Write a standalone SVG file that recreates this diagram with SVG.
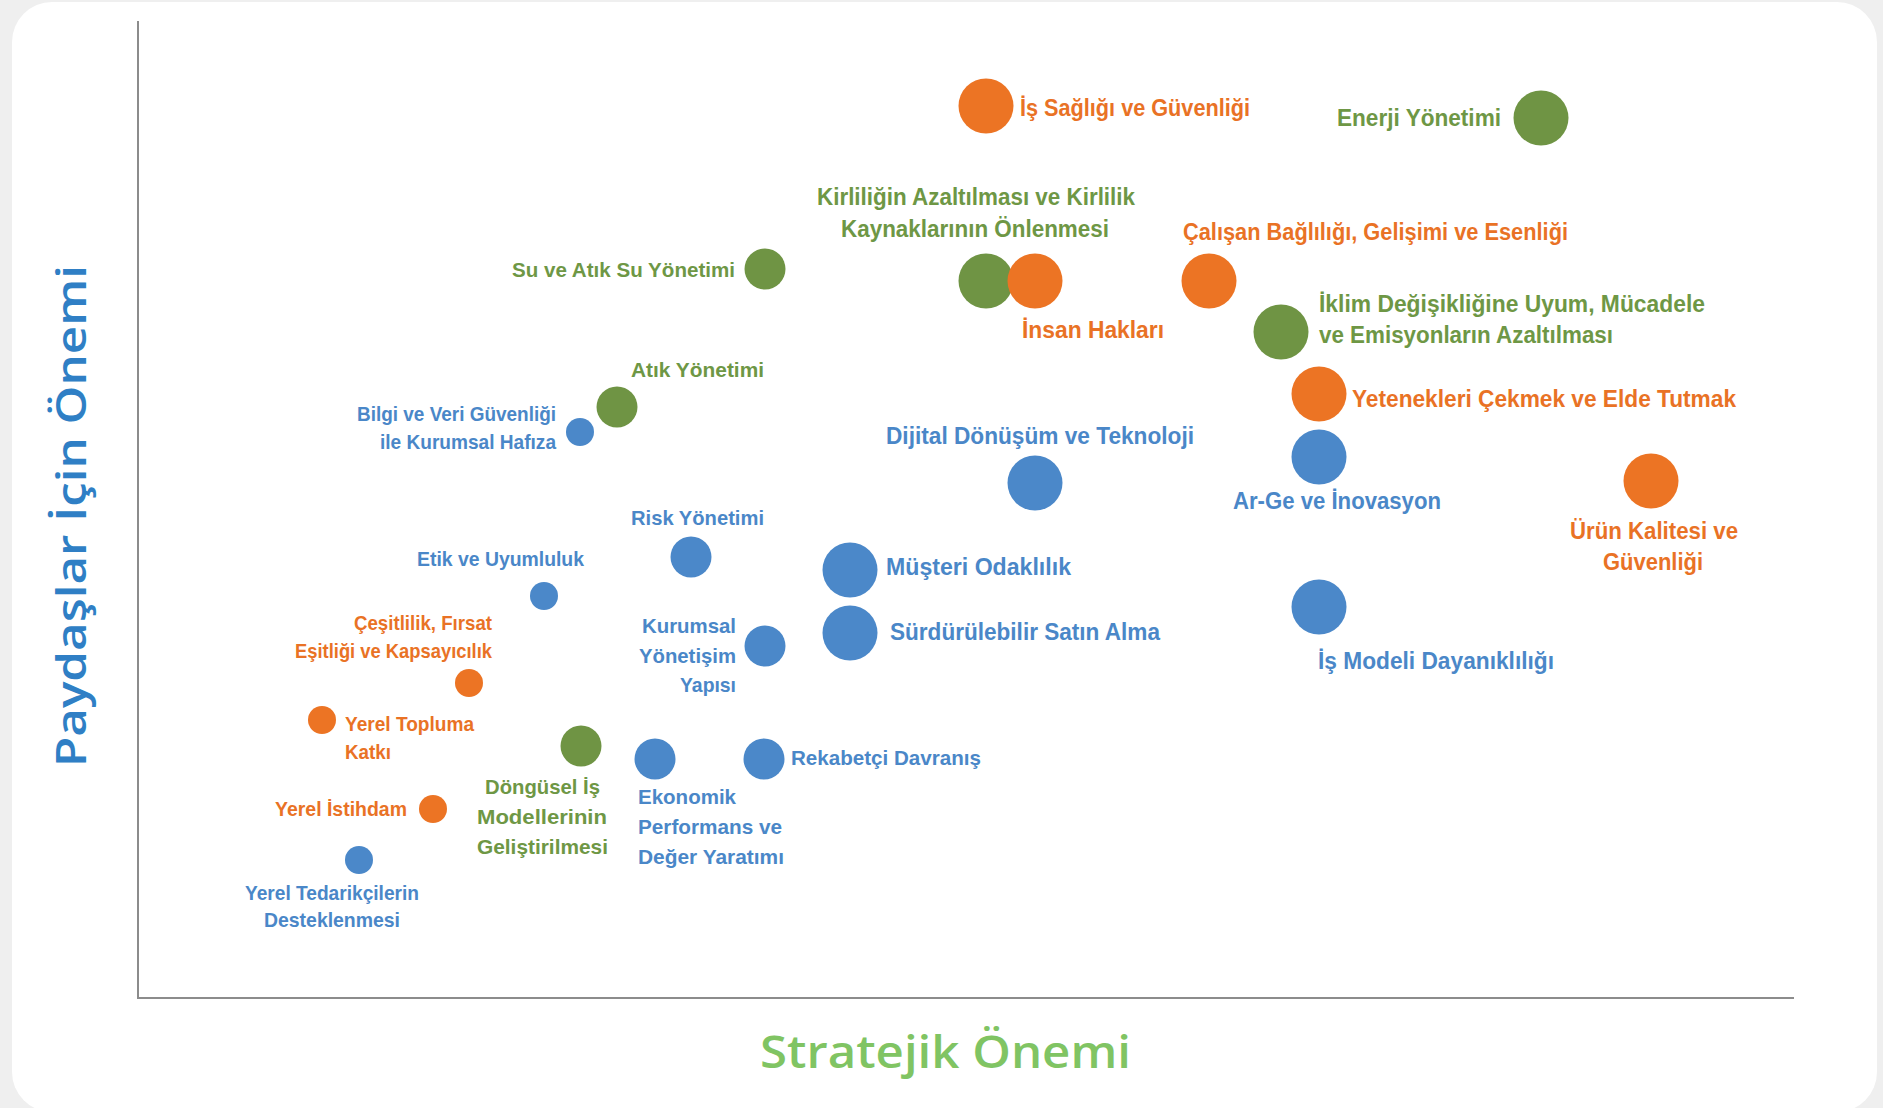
<svg xmlns="http://www.w3.org/2000/svg" width="1883" height="1108" viewBox="0 0 1883 1108">
<style>
.lb{font-family:"Liberation Sans Narrow","Liberation Sans",Arial,sans-serif;font-weight:bold;font-size:21px}
.big{font-size:23px}
.o{fill:#e97225}
.g{fill:#6e9745}
.b{fill:#4a87c8}
.co{fill:#ec7424}
.cg{fill:#6f9444}
.cb{fill:#4b88c9}
.ttl{font-family:"Open Sans","Noto Sans",sans-serif;font-weight:600}
</style>
<rect x="0" y="0" width="1883" height="1108" fill="#efefef"/>
<rect x="12" y="2" width="1865" height="1110" rx="40" ry="40" fill="#ffffff"/>
<g id="axes" stroke="#8c8c8c" stroke-width="2" fill="none">
<line x1="138" y1="21" x2="138" y2="998"/>
<line x1="137" y1="998" x2="1794" y2="998"/>
</g>
<g id="axis-titles">
<text class="ttl" transform="translate(86,767) rotate(-90)" font-size="41" fill="#2f7fc5" textLength="502" lengthAdjust="spacingAndGlyphs">Paydaşlar İçin Önemi</text>
<text class="ttl" x="760" y="1068" font-size="45" fill="#80c463" textLength="371" lengthAdjust="spacingAndGlyphs">Stratejik Önemi</text>
</g>
<g id="n-is-sagligi"><circle class="co" cx="986" cy="106" r="27.5"/><text class="lb big o" x="1020" y="116" textLength="230" lengthAdjust="spacingAndGlyphs">İş Sağlığı ve Güvenliği</text></g>
<g id="n-enerji"><circle class="cg" cx="1541" cy="118" r="27.5"/><text class="lb big g" x="1337" y="126" textLength="164" lengthAdjust="spacingAndGlyphs">Enerji Yönetimi</text></g>
<g id="n-kirlilik"><circle class="cg" cx="986" cy="281" r="27.5"/><text class="lb big g" x="817" y="205" textLength="318" lengthAdjust="spacingAndGlyphs">Kirliliğin Azaltılması ve Kirlilik</text><text class="lb big g" x="841" y="237" textLength="268" lengthAdjust="spacingAndGlyphs">Kaynaklarının Önlenmesi</text></g>
<g id="n-insan-haklari"><circle class="co" cx="1035" cy="281" r="27.5"/><text class="lb big o" x="1022" y="338" textLength="142" lengthAdjust="spacingAndGlyphs">İnsan Hakları</text></g>
<g id="n-calisan"><circle class="co" cx="1209" cy="281" r="27.5"/><text class="lb big o" x="1183" y="240" textLength="385" lengthAdjust="spacingAndGlyphs">Çalışan Bağlılığı, Gelişimi ve Esenliği</text></g>
<g id="n-iklim"><circle class="cg" cx="1281" cy="332" r="27.5"/><text class="lb big g" x="1319" y="312" textLength="386" lengthAdjust="spacingAndGlyphs">İklim Değişikliğine Uyum, Mücadele</text><text class="lb big g" x="1319" y="343" textLength="294" lengthAdjust="spacingAndGlyphs">ve Emisyonların Azaltılması</text></g>
<g id="n-yetenek"><circle class="co" cx="1319" cy="394" r="27.5"/><text class="lb big o" x="1352" y="407" textLength="384" lengthAdjust="spacingAndGlyphs">Yetenekleri Çekmek ve Elde Tutmak</text></g>
<g id="n-arge"><circle class="cb" cx="1319" cy="457" r="27.5"/><text class="lb big b" x="1233" y="509" textLength="208" lengthAdjust="spacingAndGlyphs">Ar-Ge ve İnovasyon</text></g>
<g id="n-dijital"><circle class="cb" cx="1035" cy="483" r="27.5"/><text class="lb big b" x="886" y="444" textLength="308" lengthAdjust="spacingAndGlyphs">Dijital Dönüşüm ve Teknoloji</text></g>
<g id="n-urun"><circle class="co" cx="1651" cy="481" r="27.5"/><text class="lb big o" x="1570" y="539" textLength="168" lengthAdjust="spacingAndGlyphs">Ürün Kalitesi ve</text><text class="lb big o" x="1603" y="570" textLength="100" lengthAdjust="spacingAndGlyphs">Güvenliği</text></g>
<g id="n-musteri"><circle class="cb" cx="850" cy="570" r="27.5"/><text class="lb big b" x="886" y="575" textLength="185" lengthAdjust="spacingAndGlyphs">Müşteri Odaklılık</text></g>
<g id="n-satin-alma"><circle class="cb" cx="850" cy="633" r="27.5"/><text class="lb big b" x="890" y="640" textLength="270" lengthAdjust="spacingAndGlyphs">Sürdürülebilir Satın Alma</text></g>
<g id="n-is-modeli"><circle class="cb" cx="1319" cy="607" r="27.5"/><text class="lb big b" x="1318" y="669" textLength="236" lengthAdjust="spacingAndGlyphs">İş Modeli Dayanıklılığı</text></g>
<g id="n-su"><circle class="cg" cx="765" cy="269" r="20.5"/><text class="lb g" x="512" y="277" textLength="223" lengthAdjust="spacingAndGlyphs">Su ve Atık Su Yönetimi</text></g>
<g id="n-atik"><circle class="cg" cx="617" cy="407" r="20.5"/><text class="lb g" x="631" y="377" textLength="133" lengthAdjust="spacingAndGlyphs">Atık Yönetimi</text></g>
<g id="n-bilgi"><circle class="cb" cx="580" cy="432" r="14"/><text class="lb b" x="357" y="421" textLength="199" lengthAdjust="spacingAndGlyphs">Bilgi ve Veri Güvenliği</text><text class="lb b" x="380" y="449" textLength="176" lengthAdjust="spacingAndGlyphs">ile Kurumsal Hafıza</text></g>
<g id="n-risk"><circle class="cb" cx="691" cy="557" r="20.5"/><text class="lb b" x="631" y="525" textLength="133" lengthAdjust="spacingAndGlyphs">Risk Yönetimi</text></g>
<g id="n-etik"><circle class="cb" cx="544" cy="596" r="14"/><text class="lb b" x="417" y="566" textLength="167" lengthAdjust="spacingAndGlyphs">Etik ve Uyumluluk</text></g>
<g id="n-kurumsal"><circle class="cb" cx="765" cy="646" r="20.5"/><text class="lb b" x="642" y="633" textLength="94" lengthAdjust="spacingAndGlyphs">Kurumsal</text><text class="lb b" x="639" y="663" textLength="97" lengthAdjust="spacingAndGlyphs">Yönetişim</text><text class="lb b" x="680" y="692" textLength="56" lengthAdjust="spacingAndGlyphs">Yapısı</text></g>
<g id="n-cesitlilik"><circle class="co" cx="469" cy="683" r="14"/><text class="lb o" x="354" y="630" textLength="138" lengthAdjust="spacingAndGlyphs">Çeşitlilik, Fırsat</text><text class="lb o" x="295" y="658" textLength="197" lengthAdjust="spacingAndGlyphs">Eşitliği ve Kapsayıcılık</text></g>
<g id="n-yerel-topluma"><circle class="co" cx="322" cy="720" r="14"/><text class="lb o" x="345" y="731" textLength="129" lengthAdjust="spacingAndGlyphs">Yerel Topluma</text><text class="lb o" x="345" y="759" textLength="46" lengthAdjust="spacingAndGlyphs">Katkı</text></g>
<g id="n-dongusel"><circle class="cg" cx="581" cy="746" r="20.5"/><text class="lb g" x="485" y="794" textLength="115" lengthAdjust="spacingAndGlyphs">Döngüsel İş</text><text class="lb g" x="477" y="824" textLength="130" lengthAdjust="spacingAndGlyphs">Modellerinin</text><text class="lb g" x="477" y="854" textLength="131" lengthAdjust="spacingAndGlyphs">Geliştirilmesi</text></g>
<g id="n-ekonomik"><circle class="cb" cx="655" cy="759" r="20.5"/><text class="lb b" x="638" y="804" textLength="98" lengthAdjust="spacingAndGlyphs">Ekonomik</text><text class="lb b" x="638" y="834" textLength="144" lengthAdjust="spacingAndGlyphs">Performans ve</text><text class="lb b" x="638" y="864" textLength="146" lengthAdjust="spacingAndGlyphs">Değer Yaratımı</text></g>
<g id="n-rekabetci"><circle class="cb" cx="764" cy="759" r="20.5"/><text class="lb b" x="791" y="765" textLength="190" lengthAdjust="spacingAndGlyphs">Rekabetçi Davranış</text></g>
<g id="n-yerel-istihdam"><circle class="co" cx="433" cy="809" r="14"/><text class="lb o" x="275" y="816" textLength="132" lengthAdjust="spacingAndGlyphs">Yerel İstihdam</text></g>
<g id="n-yerel-tedarik"><circle class="cb" cx="359" cy="860" r="14"/><text class="lb b" x="245" y="900" textLength="174" lengthAdjust="spacingAndGlyphs">Yerel Tedarikçilerin</text><text class="lb b" x="264" y="927" textLength="136" lengthAdjust="spacingAndGlyphs">Desteklenmesi</text></g>
</svg>
